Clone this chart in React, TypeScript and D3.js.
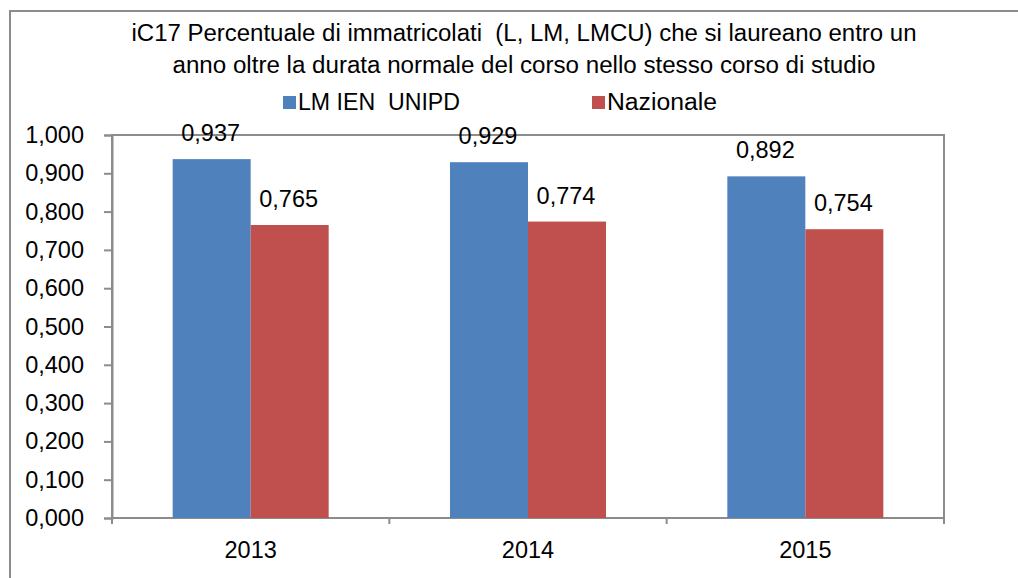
import React, { useEffect, useRef } from 'react';
import * as d3 from 'd3';

// Data
const years = ['2013', '2014', '2015'];
const seriesNames = ['LM IEN  UNIPD', 'Nazionale'];
const unipdValues = [0.937, 0.929, 0.892];
const nazionaleValues = [0.765, 0.774, 0.754];
const yTickValues = [0, 0.1, 0.2, 0.3, 0.4, 0.5, 0.6, 0.7, 0.8, 0.9, 1.0];
const titleLines = [
  'iC17 Percentuale di immatricolati  (L, LM, LMCU) che si laureano entro un',
  'anno oltre la durata normale del corso nello stesso corso di studio',
];

const colors = ['#4f81bd', '#c0504d'];
const FONT = '"Liberation Sans", Arial, sans-serif';

const App = () => {
  const chartRef = useRef<HTMLDivElement>(null);

  useEffect(() => {
    const width = 1018;
    const height = 578;
    const plot = { left: 112, right: 944, top: 135, bottom: 518 };

    const itFormat = d3.formatLocale({
      decimal: ',',
      thousands: '.',
      grouping: [3],
      currency: ['', '€'],
    }).format('.3f');

    const svg = d3
      .select(chartRef.current)
      .append('svg')
      .attr('width', width)
      .attr('height', height)
      .style('position', 'absolute')
      .style('left', 0)
      .style('top', 0)
      .style('font-family', FONT);

    svg.append('rect').attr('width', width).attr('height', height).attr('fill', '#fff');

    // outer chart frame (runs past right/bottom edge)
    svg
      .append('rect')
      .attr('x', 10)
      .attr('y', 11)
      .attr('width', width + 20)
      .attr('height', height + 20)
      .attr('fill', 'none')
      .attr('stroke', '#8c8c8c')
      .attr('stroke-width', 2);

    // title
    const titleWidths = [785, 703];
    svg
      .selectAll('.title')
      .data(titleLines)
      .enter()
      .append('text')
      .attr('class', 'title')
      .attr('x', 524)
      .attr('y', (d, i) => 41 + i * 32)
      .attr('text-anchor', 'middle')
      .attr('font-size', 23)
      .style('white-space', 'pre')
      .attr('textLength', (d, i) => titleWidths[i])
      .attr('lengthAdjust', 'spacingAndGlyphs')
      .text((d) => d);

    // legend
    const legendX = [283, 592];
    const legendW = [162, 110];
    const legend = svg
      .selectAll('.legend')
      .data(seriesNames)
      .enter()
      .append('g')
      .attr('class', 'legend')
      .attr('transform', (d, i) => `translate(${legendX[i]}, 96)`);
    legend
      .append('rect')
      .attr('width', 13)
      .attr('height', 13)
      .attr('fill', (d, i) => colors[i]);
    legend
      .append('text')
      .attr('x', 15)
      .attr('y', 14)
      .attr('font-size', 23)
      .style('white-space', 'pre')
      .attr('textLength', (d, i) => legendW[i])
      .attr('lengthAdjust', 'spacingAndGlyphs')
      .text((d) => d);

    // scales
    const xCat = d3.scaleBand().domain(years).range([plot.left, plot.right]);
    const xGroup = d3
      .scaleBand()
      .domain(years)
      .range([plot.left, plot.right])
      .paddingInner(0.4375)
      .paddingOuter(0.21875);
    const xSeries = d3.scaleBand().domain(seriesNames).range([0, xGroup.bandwidth()]);
    const y = d3.scaleLinear().domain([0, 1]).range([plot.bottom, plot.top]);

    // plot area border
    svg
      .append('rect')
      .attr('x', plot.left)
      .attr('y', plot.top)
      .attr('width', plot.right - plot.left)
      .attr('height', plot.bottom - plot.top)
      .attr('fill', 'none')
      .attr('stroke', '#8c8c8c')
      .attr('stroke-width', 2);

    // y axis
    const yAxis = svg
      .append('g')
      .attr('transform', `translate(${plot.left}, 0)`)
      .call(
        d3.axisLeft(y).tickValues(yTickValues).tickSize(8).tickPadding(20).tickFormat((d) => itFormat(d as number))
      );
    yAxis.select('.domain').attr('stroke', '#8c8c8c').attr('stroke-width', 2);
    yAxis.selectAll('.tick line').attr('stroke', '#8c8c8c').attr('stroke-width', 2);
    yAxis
      .selectAll('.tick text')
      .attr('font-family', FONT)
      .attr('font-size', 23.5)
      .attr('fill', '#000');

    // x axis: ticks at category boundaries, labels centered
    const xAxis = svg.append('g').attr('transform', `translate(0, ${plot.bottom})`);
    const boundaries = years.map((d) => xCat(d) as number).concat([plot.right]);
    xAxis
      .selectAll('line.xtick')
      .data(boundaries)
      .enter()
      .append('line')
      .attr('class', 'xtick')
      .attr('x1', (d) => d)
      .attr('x2', (d) => d)
      .attr('y1', 0)
      .attr('y2', 6)
      .attr('stroke', '#8c8c8c')
      .attr('stroke-width', 2);
    xAxis
      .selectAll('text.xlabel')
      .data(years)
      .enter()
      .append('text')
      .attr('class', 'xlabel')
      .attr('x', (d) => (xCat(d) as number) + xCat.bandwidth() / 2)
      .attr('y', 40)
      .attr('text-anchor', 'middle')
      .attr('font-size', 23.5)
      .text((d) => d);

    // bars
    const rows = years.map((yr, i) => ({ year: yr, values: [unipdValues[i], nazionaleValues[i]] }));
    const groups = svg
      .selectAll('.group')
      .data(rows)
      .enter()
      .append('g')
      .attr('class', 'group')
      .attr('transform', (d) => `translate(${xGroup(d.year)}, 0)`);

    const cells = groups
      .selectAll('.cell')
      .data((d) => d.values.map((v, j) => ({ name: seriesNames[j], value: v, idx: j })))
      .enter();

    cells
      .append('rect')
      .attr('x', (d) => xSeries(d.name) as number)
      .attr('y', (d) => y(d.value))
      .attr('width', xSeries.bandwidth())
      .attr('height', (d) => plot.bottom - y(d.value))
      .attr('fill', (d) => colors[d.idx]);

    cells
      .append('text')
      .attr('x', (d) => (xSeries(d.name) as number) + xSeries.bandwidth() / 2 - 1)
      .attr('y', (d) => y(d.value) - 18)
      .attr('text-anchor', 'middle')
      .attr('font-size', 23.5)
      .text((d) => itFormat(d.value));

    return () => {
      svg.remove();
    };
  }, []);

  return <div ref={chartRef}></div>;
};

export default App;
